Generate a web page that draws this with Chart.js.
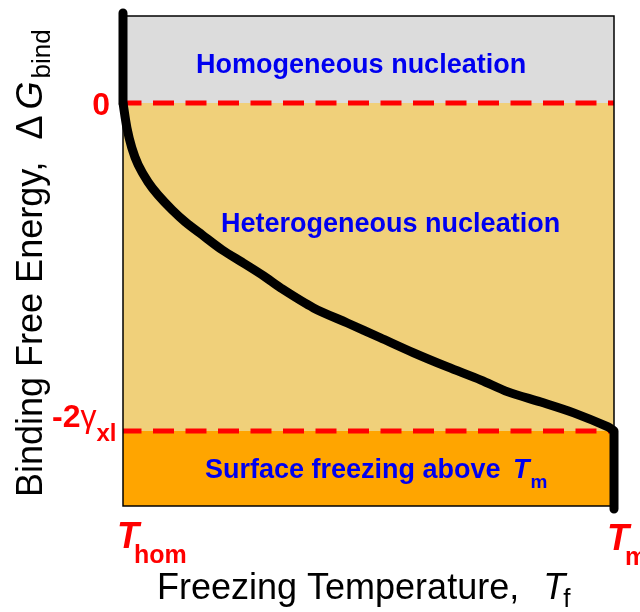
<!DOCTYPE html>
<html>
<head>
<meta charset="utf-8">
<script src="https://cdn.jsdelivr.net/npm/chart.js@4/dist/chart.umd.min.js"></script>
<style>
  html, body { margin: 0; padding: 0; background: #fff; }
  #wrap { width: 640px; height: 612px; }
</style>
</head>
<body>
<div id="wrap"><canvas id="chart" width="640" height="612"></canvas></div>
<script>
// freezing temperature, scaled from T_hom (0) to T_m (1)
const tempFrac = [0, 0, 0.008, 0.018, 0.031, 0.051, 0.071, 0.100, 0.127, 0.161, 0.202, 0.245,
    0.286, 0.322, 0.388, 0.457, 0.524, 0.592, 0.661, 0.729, 0.784, 0.851, 0.918, 0.988, 1, 1];
// binding free energy, scaled so that -2*gamma_xl = -1
const bindEnergy = [0.274, 0, -0.076, -0.137, -0.189, -0.241, -0.280, -0.326, -0.363, -0.402, -0.448, -0.488,
    -0.527, -0.565, -0.625, -0.671, -0.716, -0.762, -0.805, -0.845, -0.881, -0.912, -0.945, -0.988, -1, -1.238];

// band edges, top to bottom
const bandLevels = [0.265, 0, -1, -1.229];
const bandColors = ['#dcdcdc', '#f0d07a', '#ffa500'];
const bandNames = ['Homogeneous nucleation', 'Heterogeneous nucleation', 'Surface freezing above '];

const yTickValues = [0, -1];
const xTickValues = [0, 1];

const FONT = "'Liberation Sans', Arial, Helvetica, sans-serif";
const RED = '#ff0000';
const BLUE = '#0000f0';

const points = tempFrac.map((x, i) => ({x, y: bindEnergy[i]}));
const n = points.length;
const flat = (y) => [{x: 0, y}, {x: 1, y}];

// draws pieces of text one after another along the baseline
const drawPieces = (ctx, x, y, pieces) => {
    let cx = x;
    pieces.forEach(p => {
        ctx.font = p.font;
        cx += p.gap || 0;
        ctx.fillText(p.text, cx, y + (p.dy || 0));
        cx += ctx.measureText(p.text).width;
    });
    return cx - x;
}

const labelsPlugin = {
    id: 'labels',
    afterDatasetsDraw(chart) {
        const {ctx, chartArea: a, scales: {x, y}} = chart;
        ctx.save();

        // frame
        ctx.strokeStyle = '#000';
        ctx.lineWidth = 1.5;
        ctx.strokeRect(a.left, a.top, a.right - a.left, a.bottom - a.top);

        ctx.textBaseline = 'alphabetic';

        // region names
        ctx.fillStyle = BLUE;
        ctx.font = `bold 27px ${FONT}`;
        ctx.textAlign = 'center';
        ctx.fillText(bandNames[0], x.getPixelForValue(0.485), y.getPixelForValue(0.0915));
        ctx.fillText(bandNames[1], x.getPixelForValue(0.545), y.getPixelForValue(-0.393));
        ctx.textAlign = 'left';
        drawPieces(ctx, x.getPixelForValue(0.167), y.getPixelForValue(-1.143), [
            {text: bandNames[2], font: `bold 27px ${FONT}`},
            {text: 'T', font: `italic bold 27px ${FONT}`, gap: 5},
            {text: 'm', font: `bold 19px ${FONT}`, dy: 10, gap: 1}
        ]);

        // y ticks
        ctx.fillStyle = RED;
        ctx.font = `bold 32px ${FONT}`;
        ctx.textAlign = 'right';
        ctx.fillText('0', a.left - 13, y.getPixelForValue(yTickValues[0]) + 12);
        ctx.textAlign = 'left';
        drawPieces(ctx, a.left - 71, y.getPixelForValue(yTickValues[1]) - 4, [
            {text: '-2', font: `bold 32px ${FONT}`},
            {text: 'γ', font: `32px ${FONT}`},
            {text: 'xl', font: `bold 24px ${FONT}`, dy: 14}
        ]);

        // x ticks
        drawPieces(ctx, x.getPixelForValue(xTickValues[0]) - 6, a.bottom + 42, [
            {text: 'T', font: `italic bold 36px ${FONT}`},
            {text: 'hom', font: `bold 25px ${FONT}`, dy: 15, gap: -5}
        ]);
        drawPieces(ctx, x.getPixelForValue(xTickValues[1]) - 7, a.bottom + 44, [
            {text: 'T', font: `italic bold 36px ${FONT}`},
            {text: 'm', font: `bold 25px ${FONT}`, dy: 15, gap: -4}
        ]);

        // axis titles
        ctx.fillStyle = '#000';
        drawPieces(ctx, 157, 599, [
            {text: 'Freezing Temperature, ', font: `36px ${FONT}`},
            {text: 'T', font: `italic 36px ${FONT}`, gap: 14},
            {text: 'f', font: `26px ${FONT}`, dy: 8, gap: -2}
        ]);
        ctx.translate(42, 497);
        ctx.rotate(-Math.PI / 2);
        drawPieces(ctx, 0, 0, [
            {text: 'Binding Free Energy, ', font: `36px ${FONT}`},
            {text: 'Δ', font: `36px ${FONT}`, gap: 12},
            {text: 'G', font: `italic 36px ${FONT}`, gap: 6},
            {text: 'bind', font: `26px ${FONT}`, dy: 8, gap: 3}
        ]);

        ctx.restore();
    }
};

const blackLine = (data, tension) => ({
    data,
    borderColor: '#000',
    borderWidth: 9,
    borderJoinStyle: 'round',
    pointRadius: 0,
    tension,
    clip: false,
    order: 0
});

const dashedLine = (y) => ({
    data: flat(y),
    borderColor: RED,
    borderWidth: 5,
    borderDash: [21, 11.5],
    borderDashOffset: 2.5,
    pointRadius: 0,
    order: 1
});

new Chart(document.getElementById('chart'), {
    type: 'line',
    data: {
        datasets: [
            blackLine(points.slice(0, 2), 0),
            blackLine(points.slice(1, n - 1), 0.3),
            blackLine(points.slice(n - 2), 0),
            dashedLine(bandLevels[1]),
            dashedLine(bandLevels[2]),
            ...bandColors.map((c, i) => ({
                data: flat(bandLevels[i]),
                borderWidth: 0,
                pointRadius: 0,
                backgroundColor: c,
                fill: {value: bandLevels[i + 1]},
                order: 5
            }))
        ]
    },
    options: {
        responsive: false,
        animation: false,
        devicePixelRatio: 1,
        layout: {padding: {left: 123, right: 26, top: 16, bottom: 106}},
        plugins: {legend: {display: false}, tooltip: {enabled: false}},
        scales: {
            x: {type: 'linear', min: 0, max: 1, display: false},
            y: {type: 'linear', min: bandLevels[3], max: bandLevels[0], display: false}
        }
    },
    plugins: [labelsPlugin]
});
</script>
</body>
</html>
